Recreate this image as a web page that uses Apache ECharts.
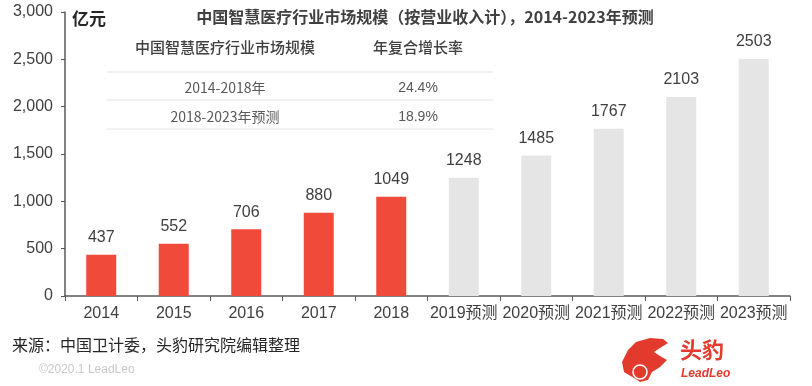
<!DOCTYPE html>
<html><head><meta charset="utf-8">
<script src="https://cdn.jsdelivr.net/npm/echarts@6/dist/echarts.min.js"></script>
<style>html,body{margin:0;padding:0;background:#fff}#c{width:812px;height:386px}</style>
</head><body><div id="c"></div>
<script>
const categories = ['2014','2015','2016','2017','2018','2019预测','2020预测','2021预测','2022预测','2023预测'];
const values = [437,552,706,880,1049,1248,1485,1767,2103,2503];
const actualCount = 5;
const tableHeader = ['中国智慧医疗行业市场规模','年复合增长率'];
const tableRows = [['2014-2018年','24.4%'],['2018-2023年预测','18.9%']];
const yTicks = {min:0,max:3000,interval:500};

const FONT = '"Liberation Sans","Noto Sans CJK SC",sans-serif';
const CJK = '"Noto Sans CJK SC","Liberation Sans",sans-serif';
const RED = '#F04A3B', GRAY = '#E5E5E5', TXT = '#404040';

const chart = echarts.init(document.getElementById('c'), null, {renderer:'canvas'});
const tableGraphics = [];
const tx1 = 225, tx2 = 418, lineL = 107, lineR = 493;
tableGraphics.push({type:'text',style:{text:tableHeader[0],x:tx1,y:47,textAlign:'center',textVerticalAlign:'middle',font:'500 15px '+CJK,fill:TXT}});
tableGraphics.push({type:'text',style:{text:tableHeader[1],x:tx2,y:47,textAlign:'center',textVerticalAlign:'middle',font:'500 15px '+CJK,fill:TXT}});
[72,100,129].forEach(y=>tableGraphics.push({type:'line',shape:{x1:lineL,y1:y,x2:lineR,y2:y},style:{stroke:'#EDEDED',lineWidth:1.5}}));
tableRows.forEach((r,i)=>{
  const y = 88 + i*29;
  tableGraphics.push({type:'text',style:{text:r[0],x:tx1,y:y,textAlign:'center',textVerticalAlign:'middle',font:'14px '+CJK,fill:'#595959'}});
  tableGraphics.push({type:'text',style:{text:r[1],x:tx2,y:y,textAlign:'center',textVerticalAlign:'middle',font:'14px '+FONT,fill:'#595959'}});
});

const option = {
  animation:false,
  backgroundColor:'#fff',
  grid:{left:65,right:22,top:12,bottom:90,containLabel:false},
  xAxis:{type:'category',data:categories,
    axisLine:{lineStyle:{color:'#595959',width:1.5}},
    axisTick:{show:true,length:5,lineStyle:{color:'#595959'}},
    axisLabel:{color:TXT,fontSize:16,fontFamily:FONT,margin:10,interval:0}},
  yAxis:{type:'value',min:yTicks.min,max:yTicks.max,interval:yTicks.interval,
    splitLine:{show:false},
    axisLine:{show:true,lineStyle:{color:'#595959',width:1.5}},
    axisTick:{show:true,length:4,lineStyle:{color:'#595959'}},
    axisLabel:{color:TXT,fontSize:16,fontFamily:FONT,margin:12,
      formatter:v=>v.toLocaleString('en-US')}},
  series:[{type:'bar',barWidth:30,
    data:values.map((v,i)=>({value:v,itemStyle:{color:i<actualCount?RED:GRAY}})),
    label:{show:true,position:'top',distance:9,color:TXT,fontSize:16,fontFamily:FONT}}],
  graphic:[
    {type:'text',style:{text:'中国智慧医疗行业市场规模（按营业收入计），2014-2023年预测',x:425,y:17,textAlign:'center',textVerticalAlign:'middle',font:'bold 16px '+CJK,fill:TXT}},
    {type:'text',style:{text:'亿元',x:72,y:19,textVerticalAlign:'middle',font:'bold 17px '+CJK,fill:'#262626'}},
    ...tableGraphics,
    {type:'text',style:{text:'来源：中国卫计委，头豹研究院编辑整理',x:12,y:345,textVerticalAlign:'middle',font:'16px '+CJK,fill:'#262626'}},
    {type:'text',style:{text:'©2020.1 LeadLeo',x:39,y:370,textVerticalAlign:'middle',font:'12px '+FONT,fill:'#C8C8C8'}},
    {type:'polygon',shape:{points:[[628,350],[636,342],[650,338],[663,339],[668,343],[660,348],[654,352],[660,356],[667,360],[660,367],[652,372],[648,380],[640,382],[634,378],[624,372],[622,362]]},style:{fill:'#E23B2E'}},
    {type:'circle',shape:{cx:640,cy:372,r:7},style:{fill:'none',stroke:'#fff',lineWidth:1.5}},
    {type:'text',style:{text:'头豹',x:680,y:350,textVerticalAlign:'middle',font:'bold 22px '+CJK,fill:'#E23B2E'}},
    {type:'text',style:{text:'LeadLeo',x:681,y:374,textVerticalAlign:'middle',font:'italic bold 12px '+FONT,fill:'#E23B2E'}}
  ]
};
chart.setOption(option);
</script></body></html>
